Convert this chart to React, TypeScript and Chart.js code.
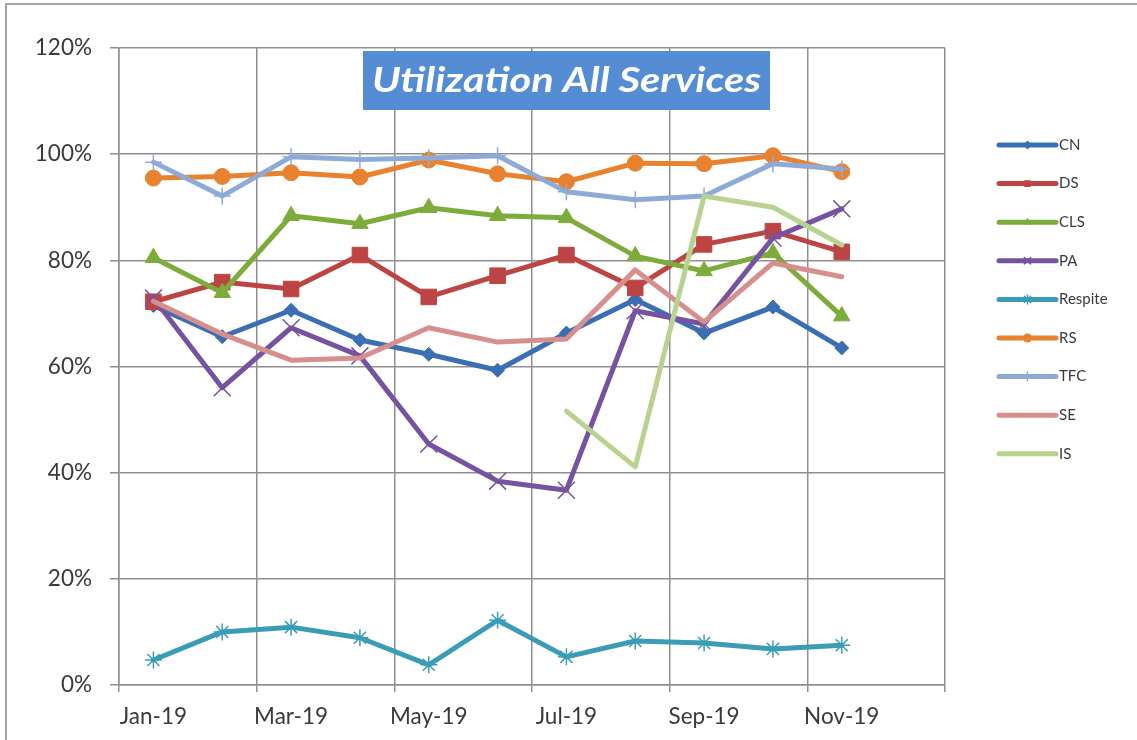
import React, { useEffect, useRef } from 'react';
import { Chart, registerables } from 'chart.js';

Chart.register(...registerables);

// ---------- data ----------
const months = ['Jan-19', 'Feb-19', 'Mar-19', 'Apr-19', 'May-19', 'Jun-19', 'Jul-19', 'Aug-19', 'Sep-19', 'Oct-19', 'Nov-19', 'Dec-19'];
const seriesNames = ['CN', 'DS', 'CLS', 'PA', 'Respite', 'RS', 'TFC', 'SE', 'IS'];
const cnValues = [71.5, 65.6, 70.6, 65.0, 62.3, 59.3, 66.3, 72.6, 66.3, 71.2, 63.5, null];
const dsValues = [72.2, 75.9, 74.6, 81.0, 73.1, 77.1, 81.0, 74.8, 83.0, 85.5, 81.6, null];
const clsValues = [80.5, 73.9, 88.4, 86.9, 89.9, 88.4, 88.0, 80.8, 78.0, 81.4, 69.5, null];
const paValues = [72.9, 56.0, 67.3, 62.0, 45.4, 38.4, 36.7, 70.5, 68.0, 84.2, 89.7, null];
const respiteValues = [4.7, 10.0, 10.9, 8.9, 3.8, 12.2, 5.3, 8.3, 7.9, 6.8, 7.5, null];
const rsValues = [95.5, 95.8, 96.5, 95.7, 98.9, 96.3, 94.8, 98.3, 98.2, 99.7, 96.7, null];
const tfcValues = [98.5, 92.1, 99.5, 99.0, 99.3, 99.7, 92.9, 91.4, 92.1, 98.2, 97.2, null];
const seValues = [72.3, 66.1, 61.2, 61.6, 67.3, 64.6, 65.2, 78.2, 68.4, 79.5, 76.9, null];
const isValues = [null, null, null, null, null, null, 51.6, 41.1, 92.1, 90.0, 82.9, null];
const yTickValues = [0, 20, 40, 60, 80, 100, 120];
const chartTitle = 'Utilization All Services';

const allValues = [cnValues, dsValues, clsValues, paValues, respiteValues, rsValues, tfcValues, seValues, isValues];

// ---------- styles ----------
const seriesColors = ['#3b6fb3', '#bc4543', '#7dac3c', '#7553a0', '#3a9db5', '#e8822f', '#8eabd8', '#d68f8d', '#b7d38f'];
const seriesMarkers = ['rectRot', 'rect', 'triangle', 'crossRot', 'star', 'circle', 'cross', 'none', 'none'];
const markerRadius = [7, 11, 9.5, 12, 8.5, 8, 8.5, 0, 0];
const markerBorder = [1, 1, 1, 1.5, 1.5, 1, 1.5, 0, 0];

const GRID = '#8f8f8f';
const TEXT = '#3a3a3a';
const FONT = 'Lato';

function drawMarker(ctx: CanvasRenderingContext2D, style: string, x: number, y: number, r: number, color: string) {
  ctx.save();
  ctx.fillStyle = color;
  ctx.strokeStyle = color;
  ctx.lineWidth = 1.5;
  ctx.beginPath();
  switch (style) {
    case 'rectRot':
      ctx.moveTo(x, y - r); ctx.lineTo(x + r, y); ctx.lineTo(x, y + r); ctx.lineTo(x - r, y); ctx.closePath(); ctx.fill();
      break;
    case 'rect':
      ctx.rect(x - r * 0.75, y - r * 0.75, r * 1.5, r * 1.5); ctx.fill();
      break;
    case 'triangle':
      ctx.moveTo(x, y - r); ctx.lineTo(x + r * 0.87, y + r * 0.5); ctx.lineTo(x - r * 0.87, y + r * 0.5); ctx.closePath(); ctx.fill();
      break;
    case 'circle':
      ctx.arc(x, y, r, 0, Math.PI * 2); ctx.fill();
      break;
    case 'crossRot':
      ctx.moveTo(x - r * 0.7, y - r * 0.7); ctx.lineTo(x + r * 0.7, y + r * 0.7);
      ctx.moveTo(x + r * 0.7, y - r * 0.7); ctx.lineTo(x - r * 0.7, y + r * 0.7); ctx.stroke();
      break;
    case 'star':
      ctx.moveTo(x - r * 0.7, y - r * 0.7); ctx.lineTo(x + r * 0.7, y + r * 0.7);
      ctx.moveTo(x + r * 0.7, y - r * 0.7); ctx.lineTo(x - r * 0.7, y + r * 0.7);
      ctx.moveTo(x, y - r); ctx.lineTo(x, y + r); ctx.stroke();
      break;
    case 'cross':
      ctx.moveTo(x, y - r); ctx.lineTo(x, y + r); ctx.stroke();
      break;
    default:
      break;
  }
  ctx.restore();
}

const framePlugin = {
  id: 'frame',
  beforeDraw(chart: any) {
    const ctx = chart.ctx as CanvasRenderingContext2D;
    ctx.save();
    ctx.strokeStyle = '#a3a3a3';
    ctx.lineWidth = 2;
    ctx.beginPath();
    ctx.moveTo(6, chart.height);
    ctx.lineTo(6, 4);
    ctx.lineTo(chart.width, 4);
    ctx.stroke();
    ctx.restore();
  },
};

const titlePlugin = {
  id: 'titleBox',
  afterDraw(chart: any) {
    const ctx = chart.ctx as CanvasRenderingContext2D;
    const a = chart.chartArea;
    const left = a.left + 244;
    const top = a.top + 3;
    const w = 407;
    const h = 59;
    ctx.save();
    ctx.fillStyle = '#548dd4';
    ctx.fillRect(left, top, w, h);
    ctx.font = `italic bold 34px ${FONT}`;
    ctx.fillStyle = '#ffffff';
    ctx.textAlign = 'center';
    ctx.textBaseline = 'middle';
    const tw = ctx.measureText(chartTitle).width;
    ctx.translate(left + w / 2, top + h / 2 + 1);
    ctx.scale(389 / tw, 1);
    ctx.fillText(chartTitle, 0, 0);
    ctx.restore();
  },
};

const legendPlugin = {
  id: 'customLegend',
  afterDraw(chart: any) {
    const ctx = chart.ctx as CanvasRenderingContext2D;
    const a = chart.chartArea;
    const x0 = a.right + 54;
    const x1 = x0 + 57;
    ctx.save();
    seriesNames.forEach((name, i) => {
      const y = 145 + i * 38.6;
      ctx.strokeStyle = seriesColors[i];
      ctx.lineWidth = 5;
      ctx.lineCap = 'round';
      ctx.beginPath();
      ctx.moveTo(x0, y);
      ctx.lineTo(x1, y);
      ctx.stroke();
      drawMarker(ctx, seriesMarkers[i], (x0 + x1) / 2, y, 4.5, seriesColors[i]);
      ctx.fillStyle = TEXT;
      ctx.font = `15px ${FONT}`;
      ctx.textAlign = 'left';
      ctx.textBaseline = 'middle';
      ctx.fillText(name, x1 + 3, y);
    });
    ctx.restore();
  },
};

export default function App() {
  const canvasRef = useRef<HTMLCanvasElement | null>(null);

  useEffect(() => {
    if (!canvasRef.current) return;
    const datasets = seriesNames.map((name, i) => ({
      label: name,
      data: allValues[i],
      borderColor: seriesColors[i],
      backgroundColor: seriesColors[i],
      borderWidth: 5,
      borderJoinStyle: 'round' as const,
      borderCapStyle: 'round' as const,
      pointStyle: seriesMarkers[i] === 'none' ? false : seriesMarkers[i],
      pointRadius: markerRadius[i],
      pointHoverRadius: markerRadius[i],
      pointBorderWidth: markerBorder[i],
      pointBackgroundColor: seriesColors[i],
      pointBorderColor: seriesColors[i],
      tension: 0,
      spanGaps: false,
      fill: false,
      order: seriesNames.length - i,
    }));

    const chart = new Chart(canvasRef.current, {
      type: 'line',
      data: { labels: months, datasets },
      options: {
        responsive: false,
        animation: false,
        events: [],
        layout: { padding: { left: 0, top: 48, right: 192, bottom: 0 } },
        plugins: {
          legend: { display: false },
          tooltip: { enabled: false },
          title: { display: false },
        },
        scales: {
          x: {
            type: 'category',
            offset: true,
            afterFit: (s: any) => { s.height = 55; },
            grid: {
              offset: true,
              color: (c: any) => (c.index === undefined || c.index % 2 === 0 ? GRID : 'rgba(0,0,0,0)'),
              lineWidth: 1.5,
              tickLength: 7,
              drawTicks: true,
            },
            border: { color: GRID, width: 1.5 },
            ticks: {
              autoSkip: false,
              maxRotation: 0,
              minRotation: 0,
              padding: 11,
              color: TEXT,
              font: { family: FONT, size: 22.5 },
              callback: (_v: any, idx: number) => (idx % 2 === 0 ? months[idx] : ''),
            },
          },
          y: {
            min: yTickValues[0],
            max: yTickValues[yTickValues.length - 1],
            afterFit: (s: any) => { s.width = 119; },
            afterBuildTicks: (s: any) => { s.ticks = yTickValues.map((v) => ({ value: v })); },
            grid: { color: GRID, lineWidth: 1.5, tickLength: 9, drawTicks: true },
            border: { color: GRID, width: 1.5 },
            ticks: {
              padding: 18,
              color: TEXT,
              font: { family: FONT, size: 22.5 },
              callback: (v: any) => `${v}%`,
            },
          },
        },
      },
      plugins: [framePlugin, titlePlugin, legendPlugin],
    });
    return () => chart.destroy();
  }, []);

  return (
    <div style={{ position: 'absolute', left: 0, top: 0, width: 1137, height: 740, background: '#ffffff' }}>
      <canvas ref={canvasRef} width={1137} height={740} />
    </div>
  );
}
